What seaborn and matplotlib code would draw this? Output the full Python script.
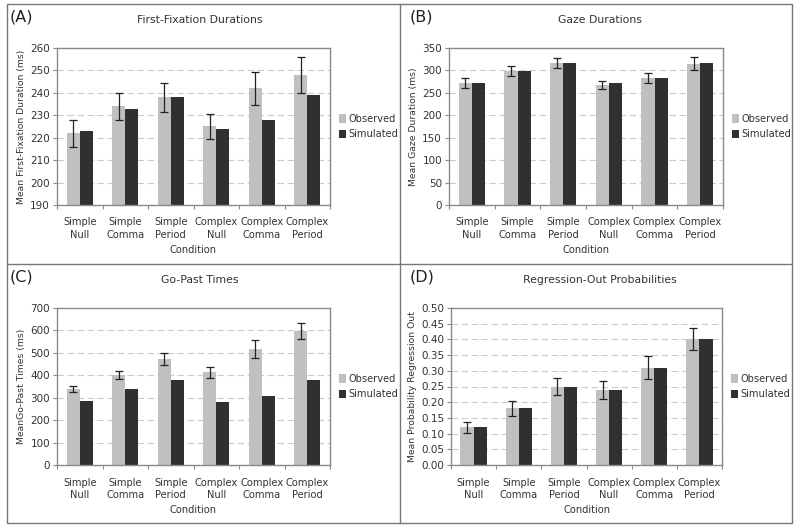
import numpy as np
import pandas as pd
import matplotlib
matplotlib.use("Agg")
import matplotlib.pyplot as plt
import seaborn as sns
from matplotlib.lines import Line2D
from matplotlib.patches import Patch

sns.set_theme(style="white")
plt.rcParams['font.family'] = ['DejaVu Sans']

conditions = ["Simple\nNull", "Simple\nComma", "Simple\nPeriod",
              "Complex\nNull", "Complex\nComma", "Complex\nPeriod"]
series = ["Observed", "Simulated"]

ffd_obs = [222, 234, 238, 225, 242, 248]
ffd_err = [6, 6, 6.5, 5.5, 7.5, 8]
ffd_sim = [223, 233, 238, 224, 228, 239]

gaze_obs = [272, 298, 316, 267, 283, 315]
gaze_err = [11, 11, 11.5, 8.5, 11, 15]
gaze_sim = [273, 298, 317, 272, 283, 317]

gp_obs = [340, 402, 472, 413, 517, 597]
gp_err = [14, 19, 26, 26, 42, 36]
gp_sim = [287, 338, 380, 283, 307, 378]

reg_obs = [0.12, 0.18, 0.25, 0.24, 0.31, 0.40]
reg_err = [0.018, 0.025, 0.028, 0.029, 0.036, 0.035]
reg_sim = [0.12, 0.18, 0.25, 0.24, 0.31, 0.40]

panels = [
    dict(label="(A)", title="First-Fixation Durations", ylabel="Mean First-Fixation Duration (ms)",
         obs=ffd_obs, err=ffd_err, sim=ffd_sim, ylim=(190, 260), ticks=np.arange(190, 261, 10), fmt="{:.0f}",
         box=(57, 330, 48, 205), px=0, py=0),
    dict(label="(B)", title="Gaze Durations", ylabel="Mean Gaze Duration (ms)",
         obs=gaze_obs, err=gaze_err, sim=gaze_sim, ylim=(0, 350), ticks=np.arange(0, 351, 50), fmt="{:.0f}",
         box=(449, 723, 48, 205), px=400, py=0),
    dict(label="(C)", title="Go-Past Times", ylabel="MeanGo-Past Times (ms)",
         obs=gp_obs, err=gp_err, sim=gp_sim, ylim=(0, 700), ticks=np.arange(0, 701, 100), fmt="{:.0f}",
         box=(57, 330, 308, 465), px=0, py=260),
    dict(label="(D)", title="Regression-Out Probabilities", ylabel="Mean Probability Regression Out",
         obs=reg_obs, err=reg_err, sim=reg_sim, ylim=(0, 0.5), ticks=np.arange(0, 0.501, 0.05), fmt="{:.2f}",
         box=(451, 722, 308, 465), px=400, py=260),
]

W, H = 800, 529
fig = plt.figure(figsize=(W / 100, H / 100), dpi=100)
fig.patch.set_facecolor("white")

OBS_C = "#c0c0c0"
SIM_C = "#303030"
FRAME_C = "#8a8a8a"
TXT = "#333333"
FS = 7.1

for p in panels:
    l, r, t, b = p["box"]
    ax = fig.add_axes([l / W, 1 - b / H, (r - l) / W, (b - t) / H])
    df = pd.DataFrame({
        "Condition": conditions * 2,
        "Series": [series[0]] * 6 + [series[1]] * 6,
        "Value": list(p["obs"]) + list(p["sim"]),
    })
    sns.barplot(data=df, x="Condition", y="Value", hue="Series", order=conditions,
                hue_order=series, palette=[OBS_C, SIM_C], width=0.58, gap=0,
                errorbar=None, ax=ax, legend=False, zorder=2, linewidth=0)
    obs_patches = ax.patches[:6]
    xs = [pt.get_x() + pt.get_width() / 2 for pt in obs_patches]
    ax.errorbar(xs, p["obs"], yerr=p["err"], fmt="none", ecolor="#222222",
                elinewidth=0.9, capsize=3, capthick=0.9, zorder=3)
    ax.set_ylim(*p["ylim"])
    ax.set_xlim(-0.5, 5.5)
    ax.set_yticks(p["ticks"])
    ax.set_yticklabels([p["fmt"].format(v) for v in p["ticks"]], fontsize=FS + 0.4, color=TXT)
    for v in p["ticks"][1:-1]:
        ax.axhline(v, color="#cccccc", lw=0.8, ls=(0, (6, 3)), zorder=1)
    ax.set_xticks(range(6))
    ax.set_xticklabels(conditions, fontsize=FS, color=TXT, linespacing=1.3)
    ax.set_xticks(np.arange(-0.5, 6, 1), minor=True)
    ax.tick_params(axis="x", which="major", length=0, pad=9)
    ax.tick_params(axis="x", which="minor", length=3, width=0.8, color=FRAME_C, direction="out", bottom=True)
    ax.tick_params(axis="y", length=3, width=0.8, color=FRAME_C, direction="out", left=True, pad=2)
    ax.set_xlabel("Condition", fontsize=FS, color=TXT, labelpad=4)
    ax.set_ylabel(p["ylabel"], fontsize=6.7, color=TXT, labelpad=3)
    for s in ax.spines.values():
        s.set_color(FRAME_C)
        s.set_linewidth(1.0)
    ax.set_facecolor("white")

    px, py = p["px"], p["py"]
    fig.text((px + 200) / W, 1 - (py + 20) / H, p["title"], ha="center", va="center",
             fontsize=7.8, color=TXT)
    fig.text((px + 10) / W, 1 - (py + 17) / H, p["label"], ha="left", va="center",
             fontsize=11.5, color="#222222")
    lx = (r + 9) / W
    ly = 1 - ((t + b) / 2 + 6) / H
    handles = [Patch(facecolor=OBS_C, edgecolor="none"), Patch(facecolor=SIM_C, edgecolor="none")]
    fig.legend(handles, series, loc="upper left", bbox_to_anchor=(lx, ly + 0.035),
               frameon=False, fontsize=FS, handlelength=0.7, handleheight=0.9,
               handletextpad=0.3, labelspacing=0.55, borderaxespad=0, borderpad=0,
               labelcolor=TXT)

line_c = "#777777"
fig.add_artist(Line2D([7 / W, 792 / W, 792 / W, 7 / W, 7 / W],
                      [1 - 4 / H, 1 - 4 / H, 1 - 523 / H, 1 - 523 / H, 1 - 4 / H],
                      color=line_c, lw=1.0))
fig.add_artist(Line2D([400 / W, 400 / W], [1 - 4 / H, 1 - 523 / H], color=line_c, lw=1.0))
fig.add_artist(Line2D([7 / W, 792 / W], [1 - 264 / H, 1 - 264 / H], color=line_c, lw=1.0))

fig.savefig("out.png", dpi=100, facecolor="white")
